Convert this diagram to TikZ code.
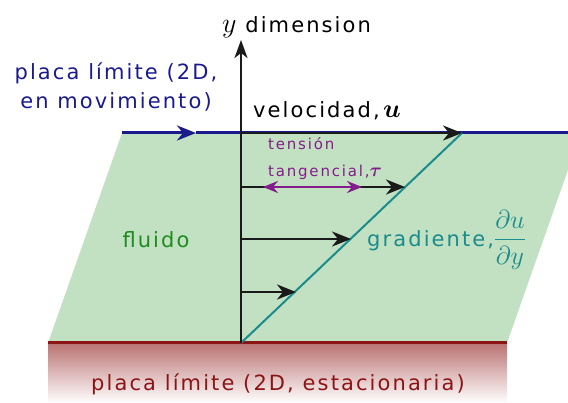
\RequirePackage{fix-cm}
\documentclass[tikz,border=0pt]{standalone}
\usepackage{amsmath}
\usepackage{amssymb}
\usepackage{bm}
\usepackage{fontspec}
\setmainfont{DejaVu Sans}
\usepackage{tikz}
\usetikzlibrary{arrows.meta,positioning,calc}
\definecolor{plateblue}{HTML}{1A1A8C}
\definecolor{platered}{HTML}{8C1414}
\definecolor{fluidfill}{HTML}{C2E0C2}
\definecolor{fluidtext}{HTML}{1E8C1E}
\definecolor{gradteal}{HTML}{1A8C8C}
\definecolor{shearpurple}{HTML}{851C8C}
\definecolor{inkgray}{HTML}{1A1A1A}
\newcommand{\bigmath}[2]{{\fontsize{#1}{#1}\selectfont$#2$}}
\tikzset{
  lbl/.style={inner sep=0pt, font=\fontsize{21}{29}\selectfont\addfontfeature{LetterSpace=10}},
  small/.style={inner sep=0pt, font=\fontsize{15}{27}\selectfont\addfontfeature{LetterSpace=12}},
  vel/.style={-{Stealth[length=19pt,width=15pt,inset=6pt]}, line width=2.4pt, draw=inkgray},
  ax/.style={-{Stealth[length=18pt,width=13pt,inset=5pt]}, line width=2.4pt, draw=inkgray},
  shear/.style={{Stealth[length=15pt,width=12pt,inset=5pt]}-{Stealth[length=15pt,width=12pt,inset=5pt]}, line width=2.4pt, draw=shearpurple},
}
\begin{document}
\begin{tikzpicture}[x=1pt,y=-1pt]
        \useasboundingbox (0,0) rectangle (568,403);
        % plates and fluid
        \coordinate (o) at (241,343);
        \coordinate (tl) at (122,133);
        \coordinate (tr) at (568,133);
        \coordinate (bl) at (48,343);
        \coordinate (br) at (507,343);
        \shade[top color=platered!60, bottom color=white] (bl) rectangle (507,403);
        \fill[fluidfill] (bl) -- (tl) -- (581,133) -- (br) -- cycle;
        \draw[platered, line width=3pt] (bl) -- (br);
        \coordinate (bm) at (196,133);
        \draw[plateblue, line width=3pt, -{Stealth[length=19pt,width=15pt,inset=6pt]}] (tl) -- (bm);
        \draw[plateblue, line width=3pt] (bm) -- (tr);
        % profile
        \coordinate (p4) at (462,133);
        \coordinate (p3) at (405,187);
        \coordinate (p2) at (351,239);
        \coordinate (p1) at (296,292);
        \draw[gradteal, line width=2pt] (o) -- (p4);
        \draw[vel] (o |- p4) -- (p4);
        \draw[vel] (o |- p3) -- (p3);
        \draw[vel] (o |- p2) -- (p2);
        \draw[vel] (o |- p1) -- (p1);
        \draw[ax] (o) -- (241,40);
        \draw[shear] (263,187) -- (362,187);
        % labels
        \node[lbl, anchor=base west] (ylab) at (222,33) {\bigmath{28}{y} dimension};
        \node[lbl, anchor=base west] (vlab) at (253,118) {velocidad,\,\bigmath{26}{\bm{u}}};
        \node[lbl, text=plateblue, align=center] (mov) at (116,87) {placa límite (2D,\\en movimiento)};
        \node[lbl, text=fluidtext] (fl) at (156,240) {fluido};
        \node[lbl, text=gradteal, anchor=west] (gr) at (367,240) {gradiente,\bigmath{26}{\dfrac{\partial u}{\partial y}}};
        \node[lbl, text=platered] (est) at (278,384) {placa límite (2D, estacionaria)};
        \node[small, text=shearpurple, align=left, anchor=base west] (ten) at (268,177) {tensión\\tangencial,\bigmath{19}{\bm{\tau}}};
      \end{tikzpicture}
\end{document}
